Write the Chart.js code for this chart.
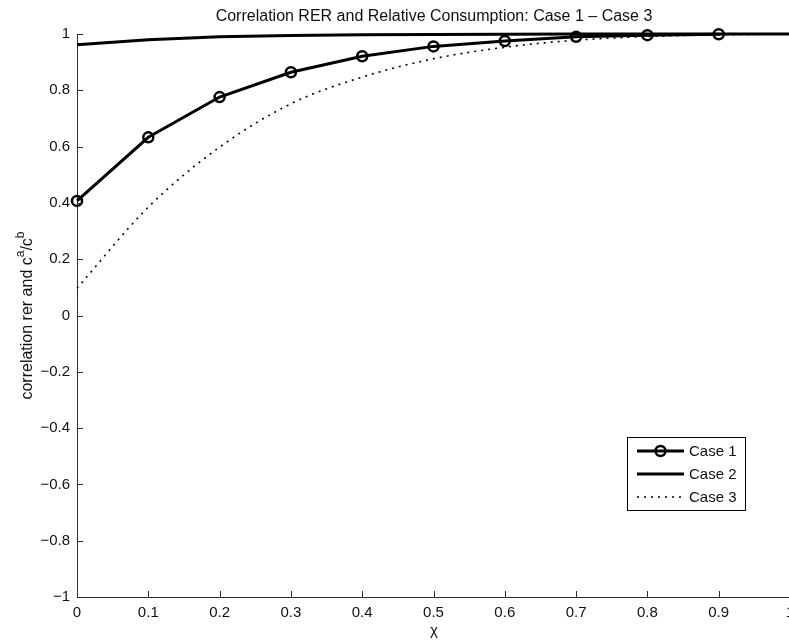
<!DOCTYPE html>
<html lang="en">

<head>
    <meta charset="UTF-8">
    <title>Correlation RER and Relative Consumption</title>
    <script src="https://cdn.jsdelivr.net/npm/chart.js"></script>
    <style>
        body {
            margin: 0;
            overflow: hidden;
            background: #fff;
        }
    </style>
</head>

<body>
    <canvas id="corr-chart" width="830" height="641"></canvas>

    <script>
        // values
        const chiCase1 = [0, 0.1, 0.2, 0.3, 0.4, 0.5, 0.6, 0.7, 0.8, 0.9];
        const case1 = [0.407, 0.633, 0.776, 0.864, 0.921, 0.956, 0.975, 0.990, 0.996, 0.999];

        const chiGrid = [0, 0.1, 0.2, 0.3, 0.4, 0.5, 0.6, 0.7, 0.8, 0.9, 1];
        const case2 = [0.962, 0.980, 0.990, 0.995, 0.997, 0.998, 0.999, 1.0, 1.0, 1.0, 1.0];
        const case3 = [0.097, 0.385, 0.598, 0.752, 0.847, 0.912, 0.953, 0.978, 0.991, 0.997, 1.0];

        const seriesNames = ['Case 1', 'Case 2', 'Case 3'];
        const xTicks = [0, 0.1, 0.2, 0.3, 0.4, 0.5, 0.6, 0.7, 0.8, 0.9, 1];
        const yTicks = [-1, -0.8, -0.6, -0.4, -0.2, 0, 0.2, 0.4, 0.6, 0.8, 1];

        const FONT = '"Liberation Sans", Arial, sans-serif';
        const AXIS = '#2b2b2b';

        function toPoints(xs, ys) {
            return xs.map((x, i) => ({ x: x, y: ys[i] }));
        }

        // title, inward ticks, axis labels and the boxed legend, MATLAB style
        const decorations = {
            id: 'decorations',
            afterDraw: (chart) => {
                const { ctx, chartArea, scales } = chart;
                const xs = scales.x, ys = scales.y;
                ctx.save();

                // ticks pointing into the plot
                ctx.strokeStyle = AXIS;
                ctx.lineWidth = 1;
                ctx.beginPath();
                yTicks.forEach(v => {
                    const py = Math.round(ys.getPixelForValue(v)) + 0.5;
                    ctx.moveTo(chartArea.left, py);
                    ctx.lineTo(chartArea.left + 6, py);
                });
                xTicks.forEach(v => {
                    const px = Math.round(xs.getPixelForValue(v)) + 0.5;
                    ctx.moveTo(px, chartArea.bottom);
                    ctx.lineTo(px, chartArea.bottom - 6);
                });
                ctx.stroke();

                ctx.fillStyle = '#111';

                // title
                ctx.font = '16px ' + FONT;
                ctx.textAlign = 'center';
                ctx.textBaseline = 'alphabetic';
                ctx.fillText('Correlation RER and Relative Consumption: Case 1 \u2013 Case 3', 434, 21);

                // x label
                ctx.font = '15px ' + FONT;
                ctx.textBaseline = 'middle';
                ctx.fillText('\u03c7', 434, 631);

                // y label with superscripts
                ctx.save();
                ctx.translate(32, (chartArea.top + chartArea.bottom) / 2);
                ctx.rotate(-Math.PI / 2);
                ctx.textBaseline = 'alphabetic';
                ctx.textAlign = 'left';
                const parts = [
                    { t: 'correlation rer and c', sup: false },
                    { t: 'a', sup: true },
                    { t: '/c', sup: false },
                    { t: 'b', sup: true }
                ];
                const fontFor = p => (p.sup ? '12px ' : '16px ') + FONT;
                let total = 0;
                parts.forEach(p => { ctx.font = fontFor(p); total += ctx.measureText(p.t).width; });
                let cx = -total / 2;
                parts.forEach(p => {
                    ctx.font = fontFor(p);
                    ctx.fillText(p.t, cx, p.sup ? -8 : 0);
                    cx += ctx.measureText(p.t).width;
                });
                ctx.restore();

                // legend box
                const box = { x: 627.5, y: 437.5, w: 118, h: 73 };
                ctx.fillStyle = '#fff';
                ctx.fillRect(box.x, box.y, box.w, box.h);
                ctx.strokeStyle = '#000';
                ctx.lineWidth = 1;
                ctx.strokeRect(box.x, box.y, box.w, box.h);

                const rowY = [451, 474, 497];
                chart.data.datasets.forEach((ds, i) => {
                    const y = rowY[i];
                    ctx.save();
                    ctx.strokeStyle = ds.borderColor;
                    ctx.lineWidth = ds.borderWidth;
                    ctx.setLineDash(ds.borderDash || []);
                    ctx.beginPath();
                    ctx.moveTo(637, y);
                    ctx.lineTo(684, y);
                    ctx.stroke();
                    ctx.setLineDash([]);
                    if (ds.pointRadius > 0) {
                        ctx.lineWidth = ds.pointBorderWidth;
                        ctx.beginPath();
                        ctx.arc(660.5, y, ds.pointRadius, 0, Math.PI * 2);
                        ctx.stroke();
                    }
                    ctx.restore();
                    ctx.fillStyle = '#111';
                    ctx.font = '15px ' + FONT;
                    ctx.textAlign = 'left';
                    ctx.textBaseline = 'middle';
                    ctx.fillText(ds.label, 689, y + 1);
                });

                ctx.restore();
            }
        };

        const ctx = document.getElementById('corr-chart').getContext('2d');
        const chart = new Chart(ctx, {
            type: 'line',
            data: {
                datasets: [{
                    label: seriesNames[0],
                    data: toPoints(chiCase1, case1),
                    borderColor: '#000',
                    borderWidth: 3,
                    pointRadius: 5,
                    pointBorderWidth: 2.5,
                    pointBorderColor: '#000',
                    pointBackgroundColor: 'rgba(0,0,0,0)',
                    tension: 0,
                    clip: false
                }, {
                    label: seriesNames[1],
                    data: toPoints(chiGrid, case2),
                    borderColor: '#000',
                    borderWidth: 3,
                    pointRadius: 0,
                    tension: 0,
                    clip: false
                }, {
                    label: seriesNames[2],
                    data: toPoints(chiGrid, case3),
                    borderColor: '#000',
                    borderWidth: 1.6,
                    borderDash: [2, 5],
                    pointRadius: 0,
                    cubicInterpolationMode: 'monotone',
                    clip: false
                }]
            },
            plugins: [decorations],
            options: {
                responsive: false,
                animation: false,
                events: [],
                layout: { padding: { left: 0, top: 34, right: 40, bottom: 0 } },
                plugins: {
                    legend: { display: false },
                    title: { display: false },
                    tooltip: { enabled: false }
                },
                scales: {
                    x: {
                        type: 'linear',
                        min: 0,
                        max: 1,
                        afterBuildTicks: (scale) => { scale.ticks = xTicks.map(v => ({ value: v })); },
                        afterFit: (scale) => { scale.height = 44; },
                        grid: { display: false, drawTicks: false },
                        border: { display: true, color: AXIS, width: 1 },
                        ticks: {
                            padding: 7,
                            color: '#111',
                            font: { family: FONT, size: 15 },
                            maxRotation: 0,
                            callback: v => String(+v.toFixed(1))
                        }
                    },
                    y: {
                        type: 'linear',
                        min: -1,
                        max: 1,
                        afterBuildTicks: (scale) => { scale.ticks = yTicks.map(v => ({ value: v })); },
                        afterFit: (scale) => { scale.width = 77; },
                        grid: { display: false, drawTicks: false },
                        border: { display: true, color: AXIS, width: 1 },
                        ticks: {
                            padding: 7,
                            color: '#111',
                            font: { family: FONT, size: 15 },
                            callback: v => String(+v.toFixed(1)).replace('-', '\u2212')
                        }
                    }
                }
            }
        });
    </script>
</body>

</html>
